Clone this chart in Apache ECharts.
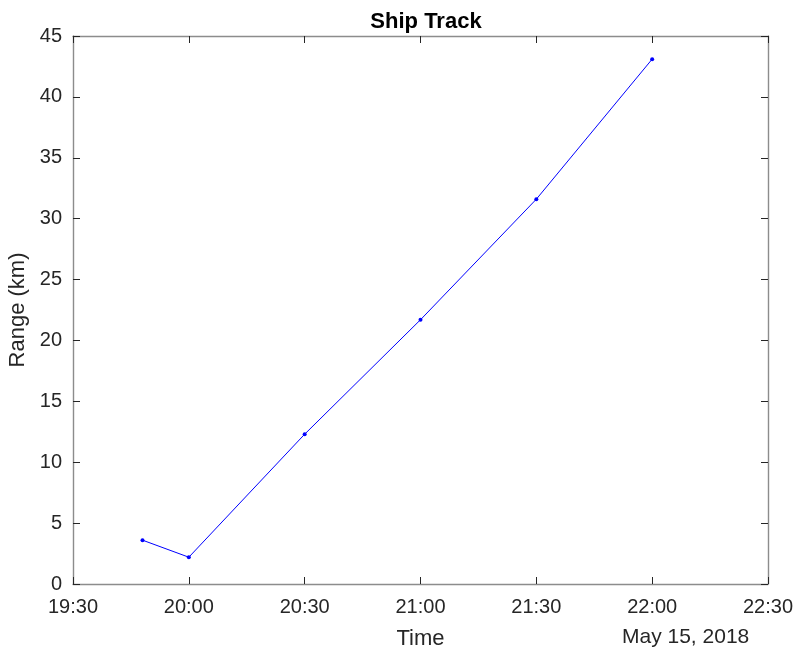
<!DOCTYPE html>
<html><head><meta charset="utf-8">
<script src="https://cdn.jsdelivr.net/npm/echarts@6/dist/echarts.min.js"></script>
<style>html,body{margin:0;padding:0;background:#fff}#c{width:798px;height:653px}</style>
</head><body><div id="c"></div>
<script>
var times = ['19:48', '20:00', '20:30', '21:00', '21:30', '22:00'];
var ranges = [3.6, 2.2, 12.3, 21.7, 31.6, 43.1];
var xTickMin = '19:30', xTickMax = '22:30';
var dateLabel = 'May 15, 2018';

function toMin(s){var p=s.split(':');return (+p[0])*60+(+p[1]);}
function fmt(v){var h=Math.floor(v/60),m=Math.round(v%60);return h+':'+(m<10?'0':'')+m;}
var data = times.map(function(t,i){return [toMin(t), ranges[i]];});
var font = 'Liberation Sans, Arial, Helvetica, sans-serif';
function axLine(){return {show:true, onZero:false, lineStyle:{color:'#8c8c8c', width:1.4}};}
function tick(){return {show:true, inside:true, length:7, lineStyle:{color:'#262626', width:1}};}
var chart = echarts.init(document.getElementById('c'));
chart.setOption({
  animation:false,
  backgroundColor:'#fff',
  title:{text:'Ship Track', left:421, top:6, textAlign:'center',
    textStyle:{fontFamily:font, fontSize:22, fontWeight:'bold', color:'#000'}},
  grid:{left:73, right:30, top:36, bottom:69, containLabel:false, outerBoundsMode:'none'},
  xAxis:[{type:'value', min:toMin(xTickMin), max:toMin(xTickMax), interval:30,
    axisLine:axLine(), axisTick:tick(), splitLine:{show:false},
    axisLabel:{formatter:fmt, fontFamily:font, fontSize:20, color:'#262626', margin:13},
    name:'Time', nameLocation:'middle', nameGap:44,
    nameTextStyle:{fontFamily:font, fontSize:22, color:'#262626'}},
   {type:'value', position:'top', min:toMin(xTickMin), max:toMin(xTickMax), interval:30,
    axisLine:axLine(), axisTick:tick(), axisLabel:{show:false}, splitLine:{show:false}}],
  yAxis:[{type:'value', min:0, max:45, interval:5,
    axisLine:axLine(), axisTick:tick(), splitLine:{show:false},
    axisLabel:{fontFamily:font, fontSize:20, color:'#262626', margin:11},
    name:'Range (km)', nameLocation:'middle', nameGap:44, nameRotate:90,
    nameTextStyle:{fontFamily:font, fontSize:22, color:'#262626'}},
   {type:'value', position:'right', min:0, max:45, interval:5,
    axisLine:axLine(), axisTick:tick(), axisLabel:{show:false}, splitLine:{show:false}}],
  graphic:[{type:'text', left:622, top:627,
    style:{text:dateLabel, fontFamily:font, fontSize:21, fill:'#262626'}}],
  series:[{type:'line', data:data, symbol:'circle', symbolSize:4,
    lineStyle:{color:'#0000ff', width:1}, itemStyle:{color:'#0000ff'}}]
});
</script></body></html>
